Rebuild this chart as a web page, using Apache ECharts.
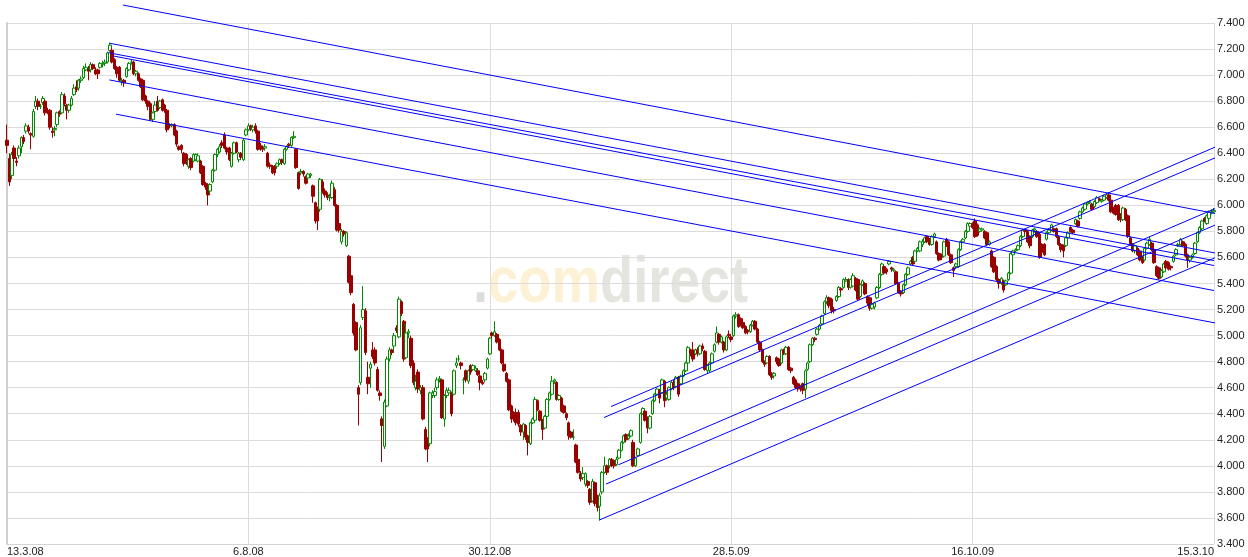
<!DOCTYPE html>
<html lang="de">
<head>
<meta charset="utf-8">
<title>Kursverlauf</title>
<script src="https://cdn.jsdelivr.net/npm/echarts/dist/echarts.min.js"></script>
<style>
  html, body { margin:0; padding:0; background:#fff; }
  #chart { width:1248px; height:557px; }
</style>
</head>
<body>
<div id="chart"></div>
<script>
// x-Achse: Beschriftung nur an diesen Handelstagen
var tickIndex = [0, 101, 202, 303, 404, 505];
var tickLabels = ['13.3.08', '6.8.08', '30.12.08', '28.5.09', '16.10.09', '15.3.10'];

// Tageskerzen: [open, close, low, high]
var ohlc = [
[6.50,6.46,6.40,6.62],[6.36,6.18,6.15,6.40],[6.23,6.39,6.20,6.41],[6.44,6.36,6.33,6.46],[6.34,6.33,6.30,6.37],
[6.38,6.44,6.36,6.46],[6.45,6.52,6.40,6.53],[6.52,6.49,6.47,6.54],[6.57,6.61,6.55,6.63],[6.60,6.57,6.55,6.62],
[6.55,6.54,6.43,6.56],[6.53,6.72,6.52,6.74],[6.76,6.80,6.74,6.84],[6.80,6.76,6.73,6.82],[6.76,6.76,6.74,6.78],
[6.79,6.82,6.77,6.84],[6.80,6.71,6.69,6.81],[6.73,6.72,6.70,6.75],[6.73,6.60,6.58,6.74],[6.57,6.56,6.52,6.60],
[6.58,6.59,6.53,6.61],[6.62,6.71,6.60,6.72],[6.72,6.70,6.68,6.73],[6.71,6.85,6.70,6.87],[6.84,6.78,6.76,6.86],
[6.77,6.73,6.66,6.78],[6.73,6.77,6.71,6.78],[6.77,6.82,6.76,6.84],[6.85,6.90,6.84,6.93],[6.91,6.89,6.87,6.96],
[6.90,6.96,6.88,6.97],[6.96,6.97,6.94,6.99],[6.98,7.05,6.97,7.07],[7.04,7.06,7.03,7.09],[7.05,7.03,6.96,7.07],
[7.04,7.08,7.02,7.10],[7.08,7.05,7.04,7.09],[7.04,7.01,7.00,7.06],[7.04,7.01,6.97,7.05],[7.06,7.09,7.05,7.10],
[7.08,7.09,7.06,7.11],[7.09,7.10,7.07,7.12],[7.10,7.17,7.09,7.18],[7.19,7.23,7.18,7.25],[7.19,7.10,7.09,7.21],
[7.12,7.05,7.04,7.13],[7.06,7.01,6.98,7.07],[7.06,6.96,6.95,7.07],[6.95,6.96,6.92,6.98],[6.96,6.94,6.91,6.97],
[6.99,7.05,6.98,7.06],[7.04,7.09,7.03,7.10],[7.10,7.10,7.08,7.12],[7.10,7.01,7.00,7.11],[7.01,7.03,6.99,7.04],
[7.01,6.96,6.95,7.02],[6.97,6.91,6.90,6.98],[6.96,6.81,6.80,6.97],[6.84,6.80,6.78,6.85],[6.80,6.76,6.73,6.81],
[6.78,6.66,6.65,6.79],[6.66,6.71,6.64,6.72],[6.72,6.77,6.70,6.80],[6.80,6.73,6.72,6.84],[6.75,6.80,6.74,6.81],
[6.81,6.73,6.72,6.82],[6.77,6.73,6.71,6.78],[6.73,6.58,6.56,6.74],[6.62,6.61,6.59,6.63],[6.61,6.62,6.60,6.63],
[6.62,6.54,6.53,6.63],[6.57,6.47,6.45,6.58],[6.45,6.43,6.42,6.46],[6.46,6.43,6.40,6.47],[6.40,6.32,6.30,6.41],
[6.39,6.34,6.31,6.40],[6.30,6.35,6.28,6.36],[6.36,6.29,6.27,6.37],[6.34,6.39,6.33,6.40],[6.35,6.39,6.34,6.40],
[6.34,6.38,6.33,6.40],[6.34,6.25,6.24,6.35],[6.30,6.16,6.15,6.31],[6.17,6.14,6.12,6.18],[6.16,6.08,6.00,6.17],
[6.11,6.16,6.09,6.17],[6.18,6.27,6.17,6.28],[6.27,6.39,6.26,6.40],[6.39,6.43,6.37,6.44],[6.41,6.45,6.40,6.47],
[6.48,6.46,6.44,6.50],[6.54,6.44,6.43,6.56],[6.44,6.41,6.39,6.45],[6.44,6.35,6.34,6.45],[6.30,6.40,6.29,6.41],
[6.40,6.48,6.39,6.49],[6.48,6.41,6.40,6.49],[6.35,6.40,6.33,6.41],[6.40,6.37,6.35,6.41],[6.35,6.50,6.34,6.51],
[6.54,6.58,6.53,6.59],[6.58,6.61,6.57,6.63],[6.61,6.59,6.57,6.62],[6.58,6.60,6.56,6.62],[6.61,6.57,6.55,6.63],
[6.57,6.43,6.42,6.58],[6.46,6.45,6.42,6.48],[6.45,6.43,6.41,6.46],[6.44,6.45,6.42,6.47],[6.40,6.30,6.29,6.41],
[6.31,6.30,6.28,6.33],[6.30,6.25,6.24,6.31],[6.30,6.25,6.23,6.31],[6.30,6.32,6.28,6.33],[6.32,6.35,6.31,6.36],
[6.35,6.33,6.31,6.36],[6.32,6.43,6.31,6.44],[6.43,6.45,6.42,6.46],[6.47,6.46,6.44,6.48],[6.46,6.52,6.45,6.53],
[6.52,6.53,6.51,6.57],[6.43,6.29,6.28,6.44],[6.25,6.13,6.12,6.26],[6.25,6.26,6.23,6.28],[6.26,6.24,6.22,6.27],
[6.22,6.17,6.16,6.23],[6.21,6.24,6.19,6.25],[6.23,6.24,6.21,6.25],[6.15,6.07,6.02,6.16],[6.02,5.88,5.86,6.03],
[5.98,5.88,5.81,5.99],
[5.97,6.20,5.95,6.21],[6.18,6.11,6.09,6.20],[6.11,6.08,6.06,6.13],[6.08,6.06,6.04,6.10],[6.06,6.07,6.03,6.09],
[6.06,6.17,6.05,6.19],[6.12,6.00,5.99,6.14],[6.00,5.81,5.80,6.01],[5.86,5.81,5.79,5.88],[5.72,5.80,5.70,5.82],
[5.80,5.78,5.76,5.81],[5.69,5.79,5.68,5.80],[5.61,5.41,5.40,5.62],[5.46,5.33,5.31,5.47],[5.24,5.02,5.00,5.25],
[5.10,4.89,4.88,5.11],[4.60,4.55,4.31,4.62],[4.64,5.06,4.62,5.08],[5.14,5.20,5.12,5.38],[5.19,4.87,4.85,5.21],
[4.68,4.63,4.55,4.80],[4.75,4.78,4.60,4.80],[4.89,4.84,4.82,4.95],[4.89,4.79,4.77,4.91],[4.74,4.58,4.57,4.76],
[4.56,4.54,4.50,4.58],[4.36,4.31,4.03,4.38],[4.15,4.49,4.13,4.51],[4.46,4.82,4.45,4.84],[4.82,4.89,4.80,4.91],
[4.89,4.87,4.85,4.90],[4.92,5.00,4.88,5.02],[5.06,5.04,5.02,5.08],[4.99,5.28,4.98,5.30],[5.26,5.17,5.15,5.27],
[5.11,4.82,4.80,5.12],[4.83,5.02,4.82,5.09],[5.02,5.03,4.98,5.05],[4.98,4.77,4.75,5.00],[4.79,4.64,4.62,4.81],
[4.60,4.65,4.58,4.70],[4.72,4.59,4.56,4.74],
[4.58,4.60,4.55,4.62],[4.60,4.36,4.35,4.62],[4.28,4.13,4.12,4.30],[4.20,4.13,4.03,4.22],[4.17,4.56,4.15,4.57],
[4.54,4.56,4.52,4.58],[4.54,4.57,4.52,4.60],[4.60,4.66,4.58,4.68],[4.66,4.67,4.64,4.69],[4.66,4.37,4.36,4.67],
[4.36,4.54,4.30,4.55],[4.54,4.58,4.52,4.60],[4.56,4.58,4.54,4.60],[4.56,4.40,4.38,4.57],[4.55,4.73,4.54,4.74],
[4.77,4.79,4.75,4.83],[4.82,4.82,4.80,4.85],[4.79,4.77,4.74,4.80],[4.66,4.66,4.55,4.68],[4.73,4.66,4.64,4.74],
[4.65,4.73,4.63,4.74],[4.77,4.72,4.70,4.78],[4.74,4.77,4.73,4.78],[4.73,4.75,4.72,4.77],[4.73,4.70,4.69,4.75],
[4.69,4.64,4.58,4.70],[4.64,4.63,4.62,4.66],[4.66,4.71,4.64,4.72],[4.75,4.82,4.74,4.83],[4.86,4.98,4.85,4.99],
[5.02,5.00,4.98,5.03],[5.00,5.03,4.99,5.11],[5.01,4.95,4.94,5.02],[4.97,4.89,4.88,4.98],[4.89,4.79,4.78,4.90],
[4.78,4.73,4.72,4.79],[4.71,4.65,4.64,4.72],[4.66,4.43,4.42,4.67],[4.46,4.36,4.33,4.47],[4.41,4.36,4.34,4.42],
[4.41,4.33,4.31,4.44],[4.41,4.32,4.30,4.43],[4.31,4.26,4.23,4.32],[4.26,4.32,4.20,4.33],[4.31,4.22,4.20,4.32],
[4.23,4.18,4.08,4.24],[4.17,4.33,4.16,4.34],[4.33,4.36,4.32,4.37],[4.35,4.51,4.34,4.53],[4.50,4.43,4.42,4.51],
[4.42,4.35,4.34,4.43],[4.35,4.28,4.20,4.36],[4.29,4.38,4.28,4.39],[4.38,4.51,4.37,4.52],[4.51,4.56,4.50,4.57],
[4.55,4.65,4.54,4.69],[4.65,4.66,4.63,4.67],[4.64,4.51,4.50,4.65],[4.51,4.54,4.50,4.55],[4.52,4.42,4.41,4.53],
[4.46,4.41,4.40,4.47],[4.40,4.37,4.35,4.41],[4.33,4.23,4.20,4.34],[4.26,4.22,4.21,4.27],[4.22,4.22,4.20,4.28],
[4.16,4.03,4.02,4.17],[4.05,3.95,3.94,4.06],[3.94,3.90,3.88,3.96],[3.91,3.94,3.89,3.99],[3.86,3.94,3.84,3.95],
[3.88,3.85,3.83,3.89],[3.82,3.72,3.70,3.83],[3.73,3.88,3.72,3.90],[3.87,3.71,3.69,3.88],[3.77,3.68,3.65,3.78],
[3.69,3.77,3.58,3.79],[3.80,3.95,3.78,3.96],[3.95,4.00,3.94,4.07],[4.00,3.95,3.93,4.01],[4.00,4.05,3.98,4.06],
[4.05,4.00,3.99,4.06],[4.04,4.00,3.98,4.05],[4.01,4.05,4.00,4.07],[4.06,4.12,4.05,4.13],[4.12,4.18,4.11,4.19],
[4.18,4.23,4.17,4.24],[4.24,4.20,4.18,4.25],[4.21,4.23,4.20,4.25],[4.23,4.27,4.22,4.28],[4.18,4.00,3.99,4.20],
[4.00,4.06,3.99,4.07],[4.08,4.13,4.07,4.14],[4.18,4.40,4.17,4.41],[4.40,4.44,4.39,4.45],[4.42,4.35,4.34,4.43],
[4.37,4.29,4.25,4.38],[4.29,4.38,4.28,4.39],[4.40,4.50,4.39,4.51],[4.50,4.55,4.49,4.56],[4.55,4.59,4.54,4.60],
[4.58,4.52,4.48,4.59],[4.56,4.66,4.55,4.67],[4.65,4.50,4.45,4.66],[4.52,4.55,4.50,4.57],[4.51,4.60,4.50,4.61],
[4.59,4.64,4.58,4.65],[4.64,4.60,4.58,4.66],[4.61,4.68,4.60,4.69],[4.68,4.55,4.53,4.69],[4.63,4.69,4.62,4.70],
[4.69,4.73,4.68,4.74],[4.73,4.79,4.72,4.80],[4.79,4.91,4.78,4.92],[4.89,4.86,4.84,4.90],[4.89,4.82,4.80,4.95],
[4.86,4.89,4.85,4.90],[4.89,4.86,4.84,4.91],[4.86,4.92,4.85,4.93],[4.92,4.90,4.88,4.94],[4.88,4.74,4.73,4.89],
[4.73,4.77,4.71,4.78],[4.73,4.79,4.72,4.80],[4.79,4.86,4.78,4.87],[4.88,4.93,4.87,4.94],[4.95,5.02,4.94,5.07],
[5.01,4.95,4.93,5.02],[4.95,4.99,4.94,5.00],[4.95,4.89,4.87,4.96],[4.89,4.99,4.88,5.00],[5.01,5.00,4.98,5.04],
[4.99,4.97,4.95,5.00],[5.00,5.15,4.99,5.16],[5.15,5.16,5.13,5.18],[5.16,5.07,5.06,5.17],[5.13,5.09,5.07,5.14],
[5.10,5.06,5.05,5.11],[5.07,5.02,5.01,5.08],[5.04,5.03,5.01,5.05],[5.03,5.08,5.02,5.09],[5.08,5.11,5.07,5.12],
[5.11,5.05,5.04,5.12],[5.05,4.95,4.94,5.06],[4.95,4.89,4.88,4.96],[4.89,4.80,4.79,4.90],[4.80,4.78,4.76,4.81],
[4.79,4.84,4.78,4.85],[4.84,4.70,4.69,4.85],[4.71,4.68,4.66,4.72],[4.69,4.71,4.67,4.72],[4.83,4.80,4.78,4.84],
[4.82,4.77,4.76,4.83],[4.79,4.89,4.78,4.90],[4.89,4.86,4.85,4.90],[4.86,4.91,4.85,4.92],[4.91,4.74,4.73,4.92],
[4.75,4.73,4.71,4.76],[4.68,4.63,4.62,4.69],[4.66,4.60,4.59,4.67],[4.63,4.59,4.57,4.64],[4.61,4.59,4.57,4.62],
[4.63,4.58,4.55,4.64],[4.59,4.73,4.52,4.74],[4.74,4.79,4.73,4.80],[4.80,4.93,4.79,4.94],[4.93,4.98,4.92,4.99],
[4.98,4.97,4.95,4.99],[5.01,5.05,5.00,5.06],[5.05,5.08,5.04,5.09],[5.09,5.15,5.08,5.16],
[5.17,5.26,5.16,5.27],[5.26,5.29,5.24,5.31],[5.29,5.23,5.21,5.30],[5.28,5.19,5.17,5.29],[5.20,5.19,5.17,5.22],
[5.27,5.30,5.26,5.31],[5.30,5.37,5.29,5.38],[5.36,5.35,5.33,5.37],[5.37,5.43,5.36,5.44],[5.42,5.43,5.41,5.45],
[5.43,5.37,5.35,5.44],[5.37,5.43,5.36,5.44],[5.38,5.46,5.37,5.48],[5.44,5.35,5.34,5.45],[5.43,5.28,5.27,5.44],
[5.30,5.39,5.29,5.40],[5.39,5.42,5.38,5.43],[5.40,5.32,5.31,5.41],[5.30,5.25,5.23,5.31],[5.29,5.21,5.19,5.30],
[5.21,5.24,5.20,5.25],[5.22,5.25,5.20,5.26],[5.29,5.37,5.28,5.38],[5.37,5.47,5.36,5.48],[5.47,5.55,5.46,5.56],
[5.53,5.48,5.47,5.54],[5.51,5.49,5.47,5.52],[5.55,5.57,5.54,5.58],[5.52,5.51,5.49,5.53],[5.50,5.51,5.49,5.52],
[5.49,5.40,5.39,5.50],[5.40,5.33,5.32,5.41],[5.34,5.32,5.30,5.35],[5.33,5.39,5.32,5.40],[5.39,5.47,5.38,5.48],
[5.47,5.52,5.46,5.53],[5.55,5.57,5.54,5.58],[5.60,5.55,5.54,5.61],[5.57,5.65,5.56,5.66],[5.65,5.67,5.64,5.68],
[5.65,5.72,5.64,5.73],[5.70,5.72,5.68,5.74],[5.72,5.75,5.71,5.76],[5.76,5.72,5.71,5.77],[5.74,5.70,5.69,5.75],
[5.70,5.76,5.69,5.77],[5.76,5.78,5.75,5.79],[5.72,5.63,5.62,5.73],[5.63,5.58,5.57,5.64],[5.62,5.60,5.58,5.63],
[5.61,5.72,5.60,5.73],[5.74,5.69,5.68,5.75],[5.72,5.62,5.61,5.73],[5.62,5.56,5.55,5.63],[5.52,5.50,5.45,5.53],
[5.53,5.55,5.51,5.56],[5.53,5.66,5.52,5.67],[5.66,5.72,5.65,5.73],[5.72,5.74,5.71,5.75],[5.75,5.80,5.74,5.81],
[5.80,5.86,5.79,5.87],[5.84,5.86,5.83,5.87],[5.86,5.83,5.82,5.87],[5.88,5.76,5.75,5.90],[5.85,5.77,5.76,5.86],
[5.80,5.82,5.79,5.83],[5.81,5.82,5.80,5.83],[5.80,5.75,5.74,5.81],[5.79,5.70,5.69,5.80],[5.70,5.72,5.69,5.73],
[5.65,5.53,5.52,5.66],[5.60,5.49,5.48,5.61],[5.53,5.43,5.42,5.54],[5.43,5.40,5.36,5.44],[5.40,5.44,5.39,5.45],
[5.42,5.35,5.33,5.43],[5.39,5.42,5.38,5.43],[5.43,5.48,5.42,5.49],[5.48,5.63,5.47,5.64],[5.62,5.65,5.61,5.66],
[5.65,5.66,5.64,5.67],[5.66,5.69,5.65,5.70],[5.69,5.76,5.68,5.77],[5.76,5.81,5.75,5.82],[5.81,5.80,5.78,5.82],
[5.80,5.72,5.71,5.81],[5.76,5.69,5.67,5.77],
[5.76,5.81,5.75,5.82],[5.81,5.82,5.79,5.83],[5.80,5.76,5.75,5.81],[5.78,5.60,5.59,5.79],[5.70,5.64,5.60,5.71],
[5.70,5.62,5.61,5.71],[5.74,5.79,5.73,5.80],[5.79,5.81,5.78,5.82],[5.81,5.85,5.80,5.86],[5.82,5.80,5.79,5.83],
[5.82,5.76,5.75,5.83],[5.76,5.70,5.69,5.77],[5.70,5.66,5.64,5.71],[5.69,5.65,5.60,5.70],[5.69,5.75,5.68,5.76],
[5.75,5.79,5.74,5.80],[5.83,5.80,5.79,5.84],[5.81,5.79,5.78,5.82],[5.86,5.89,5.85,5.90],[5.88,5.84,5.83,5.89],
[5.90,5.95,5.89,5.96],[5.95,5.98,5.94,5.99],[5.97,6.01,5.96,6.02],[6.01,6.02,6.00,6.03],[6.02,6.03,6.01,6.04],
[6.01,5.97,5.96,6.02],[5.99,6.03,5.98,6.04],[6.02,6.06,6.01,6.07],[6.05,6.04,6.03,6.06],[6.03,6.04,6.02,6.05],
[6.04,6.07,6.03,6.08],[6.06,6.08,6.05,6.09],[6.08,6.04,6.03,6.10],[6.04,5.95,5.94,6.05],[5.98,5.94,5.93,5.99],
[6.00,5.93,5.92,6.01],[6.00,5.89,5.88,6.01],[5.93,5.89,5.87,5.94],[5.89,5.98,5.88,5.99],[5.97,5.89,5.88,5.98],
[5.92,5.76,5.75,5.93],[5.75,5.70,5.69,5.76],[5.70,5.65,5.64,5.71],[5.65,5.69,5.63,5.70],[5.67,5.62,5.61,5.68],
[5.65,5.58,5.57,5.66],[5.60,5.56,5.55,5.61],[5.58,5.67,5.57,5.68],[5.67,5.71,5.66,5.72],[5.70,5.74,5.69,5.76],
[5.71,5.66,5.65,5.72],[5.66,5.56,5.55,5.67],[5.53,5.46,5.45,5.54],[5.52,5.44,5.43,5.53],[5.45,5.50,5.44,5.51],
[5.49,5.55,5.48,5.56],[5.57,5.52,5.51,5.58],[5.56,5.51,5.50,5.57],[5.53,5.52,5.50,5.54],[5.57,5.61,5.56,5.62],
[5.62,5.66,5.61,5.67],[5.69,5.70,5.68,5.71],[5.70,5.74,5.69,5.75],[5.72,5.69,5.68,5.73],[5.70,5.61,5.60,5.71],
[5.62,5.58,5.52,5.63],[5.58,5.60,5.56,5.61],[5.60,5.62,5.59,5.63],[5.63,5.71,5.62,5.72],[5.72,5.79,5.71,5.80],
[5.79,5.83,5.78,5.84],[5.82,5.88,5.81,5.89],[5.90,5.88,5.87,5.91],[5.86,5.92,5.85,5.93],[5.90,5.95,5.89,5.96],
[5.94,5.95,5.93,5.97],[5.95,5.96,5.94,5.98]
];

// Trendlinien: [[Handelstag, Kurs], [Handelstag, Kurs]]
var fallingLines = [
  [[48.5, 7.538], [512.5, 5.913]],
  [[43.1, 7.244], [506.7, 5.630]],
  [[42.4, 7.172], [505.0, 5.576]],
  [[44.4, 7.147], [505.0, 5.538]],
  [[42.8, 6.963], [505.0, 5.346]],
  [[45.6, 6.700], [506.7, 5.093]]
];
var risingLines = [
  [[247.8, 3.584], [509.6, 5.630]],
  [[250.6, 3.860], [509.6, 5.881]],
  [[255.8, 4.008], [515.9, 6.057]],
  [[249.8, 4.371], [510.5, 6.404]],
  [[252.7, 4.455], [510.9, 6.490]]
];

var categories = ohlc.map(function (d, i) { return String(i); });
var lastIndex = ohlc.length - 1;

function isTick(index) {
  return tickIndex.indexOf(index) >= 0;
}

var series = [{
  type: 'candlestick',
  xAxisIndex: 0,
  yAxisIndex: 0,
  data: ohlc,
  barWidth: 3,
  z: 2,
  itemStyle: {
    color: '#ffffff',
    color0: '#990000',
    borderColor: '#008800',
    borderColor0: '#990000',
    borderColorDoji: '#008800',
    borderWidth: 1
  }
}];

fallingLines.concat(risingLines).forEach(function (seg) {
  series.push({
    type: 'line',
    xAxisIndex: 1,
    yAxisIndex: 0,
    data: seg,
    symbol: 'none',
    clip: false,
    silent: true,
    z: 3,
    lineStyle: { color: '#0000ff', width: 1 }
  });
});

var chart = echarts.init(document.getElementById('chart'));
chart.setOption({
  animation: false,
  backgroundColor: '#ffffff',
  grid: { left: 7, right: 34, top: 23, bottom: 12 },
  xAxis: [{
    type: 'category',
    data: categories,
    boundaryGap: false,
    axisLine: { show: true, lineStyle: { color: '#d4d4d4' } },
    axisTick: { show: false },
    axisLabel: {
      interval: function (index) { return isTick(index); },
      formatter: function (value, index) {
        var k = tickIndex.indexOf(Number(value));
        return k >= 0 ? tickLabels[k] : '';
      },
      alignMinLabel: 'left',
      alignMaxLabel: 'right',
      margin: 2,
      fontSize: 11,
      fontFamily: 'Liberation Sans',
      color: '#222'
    },
    splitLine: {
      show: true,
      interval: function (index) { return isTick(index); },
      lineStyle: { color: '#dcdcdc', width: 1 }
    }
  }, {
    type: 'value',
    min: 0,
    max: lastIndex,
    show: false
  }],
  yAxis: [{
    type: 'value',
    position: 'right',
    min: 3.4,
    max: 7.4,
    interval: 0.2,
    axisLine: { show: true, lineStyle: { color: '#d0d0d0', width: 2 } },
    axisTick: { show: false },
    axisLabel: {
      formatter: function (v) { return v.toFixed(3); },
      margin: 3,
      fontSize: 11,
      fontFamily: 'Liberation Sans',
      color: '#222'
    },
    splitLine: { show: true, lineStyle: { color: '#dcdcdc', width: 1 } }
  }],
  graphic: [
    { type: 'text', x: 473, y: 284, z: -10, scaleX: 0.85,
      style: { text: '.', fill: '#dcdcdc', font: 'bold 64px "Liberation Sans"', textVerticalAlign: 'middle' } },
    { type: 'text', x: 488, y: 284, z: -10, scaleX: 0.85,
      style: { text: 'com', fill: '#fdf1d5', font: 'bold 64px "Liberation Sans"', textVerticalAlign: 'middle' } },
    { type: 'text', x: 600, y: 284, z: -10, scaleX: 0.85,
      style: { text: 'direct', fill: '#e5e5df', font: 'bold 64px "Liberation Sans"', textVerticalAlign: 'middle' } }
  ],
  series: series
});
</script>
</body>
</html>
